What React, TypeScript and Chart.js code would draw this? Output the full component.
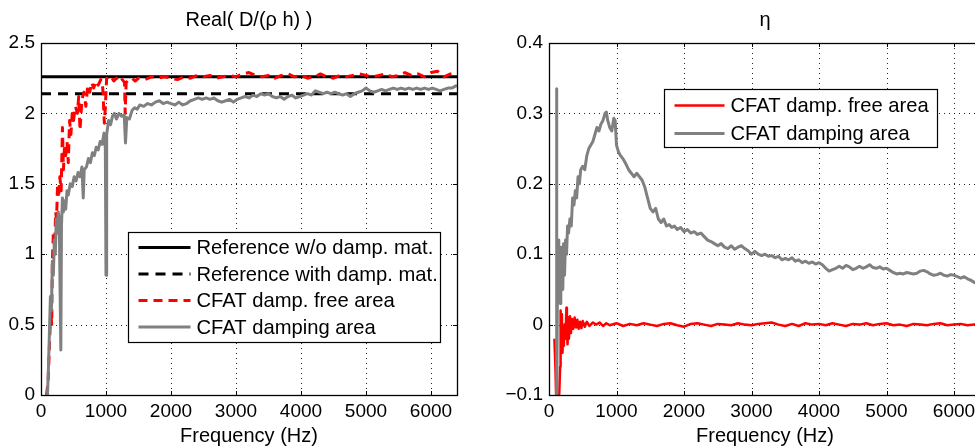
import React, { useEffect, useRef } from 'react';
import { Chart, registerables } from 'chart.js';

Chart.register(...registerables);

const FONT = "'Liberation Sans', Arial, Helvetica, sans-serif";

// ---------- Tick values ----------
const xTicks = [0, 1000, 2000, 3000, 4000, 5000, 6000];
const leftYTicks = [0, 0.5, 1, 1.5, 2, 2.5];
const rightYTicks = [-0.1, 0, 0.1, 0.2, 0.3, 0.4];

// ---------- Left chart: Real( D/(rho h) ) ----------
const refX = [0, 6400];
const refNoDamp = [2.26, 2.26];
const refWithDamp = [2.14, 2.14];

const redFreqL = [85, 110, 130, 150, 165, 175, 190, 210, 225, 240, 255, 270, 290, 310, 330, 345, 360, 380, 400, 420, 440, 460, 480, 500, 530, 560, 580, 600, 630, 660, 690, 720, 750, 780, 810, 850, 880, 920, 950, 975, 990, 1010, 1040, 1080, 1120, 1160, 1200, 1250, 1285, 1295, 1310, 1350, 1400, 1450, 1500, 1600, 1700, 1800, 1900, 2000, 2100, 2200, 2300, 2400, 2500, 2600, 2700, 2800, 2900, 3000, 3100, 3200, 3300, 3400, 3500, 3600, 3700, 3800, 3900, 4000, 4100, 4200, 4300, 4400, 4500, 4600, 4700, 4800, 4900, 5000, 5100, 5200, 5300, 5400, 5500, 5600, 5700, 5800, 5900, 6000, 6100, 6200, 6300, 6400];
const redValL = [0.0, 0.1, 0.35, 0.6, 0.5, 0.95, 1.15, 1.05, 1.3, 1.25, 1.5, 1.4, 1.55, 1.45, 1.9, 1.6, 1.75, 1.7, 1.8, 1.65, 1.95, 1.85, 2.0, 1.95, 2.05, 2.0, 2.12, 1.88, 2.1, 2.15, 2.05, 2.2, 2.15, 2.22, 2.18, 2.23, 2.2, 2.24, 2.18, 1.93, 2.05, 2.25, 2.24, 2.26, 2.23, 2.25, 2.22, 2.24, 2.22, 2.0, 2.22, 2.24, 2.25, 2.23, 2.25, 2.24, 2.26, 2.25, 2.26, 2.25, 2.24, 2.26, 2.25, 2.27, 2.26, 2.27, 2.25, 2.26, 2.27, 2.26, 2.28, 2.29, 2.27, 2.26, 2.27, 2.25, 2.27, 2.28, 2.26, 2.27, 2.25, 2.26, 2.28, 2.26, 2.25, 2.27, 2.26, 2.27, 2.28, 2.27, 2.26, 2.27, 2.28, 2.26, 2.27, 2.29, 2.27, 2.28, 2.26, 2.29, 2.3, 2.26, 2.28, 2.29];

const grayFreqL = [100, 115, 130, 145, 160, 175, 190, 205, 220, 235, 250, 265, 280, 295, 305, 315, 330, 345, 360, 380, 400, 420, 450, 480, 510, 540, 570, 600, 630, 650, 665, 700, 730, 760, 790, 820, 850, 880, 910, 940, 970, 990, 1000, 1010, 1040, 1070, 1100, 1130, 1160, 1200, 1240, 1280, 1300, 1320, 1360, 1400, 1440, 1480, 1520, 1580, 1640, 1700, 1760, 1820, 1880, 1940, 2000, 2060, 2120, 2180, 2240, 2300, 2360, 2420, 2480, 2540, 2600, 2660, 2720, 2780, 2840, 2900, 2960, 3020, 3080, 3140, 3200, 3260, 3320, 3380, 3440, 3500, 3560, 3620, 3680, 3740, 3800, 3860, 3920, 3980, 4040, 4100, 4160, 4220, 4280, 4340, 4400, 4460, 4520, 4580, 4640, 4700, 4760, 4820, 4880, 4940, 5000, 5060, 5120, 5180, 5240, 5300, 5360, 5420, 5480, 5540, 5600, 5660, 5720, 5780, 5840, 5900, 5960, 6020, 6080, 6140, 6200, 6260, 6320, 6400];
const grayValL = [0.0, 0.2, 0.45, 0.7, 0.6, 0.95, 0.85, 1.1, 1.0, 1.25, 1.15, 1.3, 1.25, 0.7, 0.32, 1.2, 1.4, 1.3, 1.38, 1.32, 1.45, 1.42, 1.5, 1.48, 1.55, 1.52, 1.58, 1.55, 1.62, 1.4, 1.6, 1.62, 1.68, 1.65, 1.72, 1.7, 1.76, 1.74, 1.8, 1.78, 1.86, 1.75, 0.85, 1.85, 1.95, 1.92, 1.98, 2.0, 1.96, 2.0, 1.98, 1.99, 1.79, 1.97, 1.96, 2.02, 2.04, 2.03, 2.06, 2.05, 2.07, 2.06, 2.08, 2.09, 2.07, 2.08, 2.07, 2.06, 2.08, 2.06, 2.07, 2.09, 2.1, 2.11, 2.1, 2.11, 2.1, 2.11, 2.09, 2.08, 2.09, 2.1, 2.08, 2.1, 2.11, 2.12, 2.11, 2.13, 2.12, 2.14, 2.13, 2.14, 2.12, 2.11, 2.12, 2.1, 2.12, 2.13, 2.11, 2.12, 2.13, 2.14, 2.13, 2.16, 2.15, 2.14, 2.15, 2.14, 2.15, 2.14, 2.13, 2.14, 2.12, 2.14, 2.15, 2.16, 2.18, 2.16, 2.15, 2.16, 2.17, 2.16, 2.17, 2.18, 2.17, 2.18, 2.17, 2.18, 2.17, 2.18, 2.17, 2.18, 2.17, 2.18, 2.17, 2.16, 2.17, 2.18, 2.18, 2.2];

// ---------- Right chart: eta ----------
const redFreqR = [80, 95, 110, 125, 140, 155, 165, 172, 180, 190, 200, 210, 220, 230, 245, 258, 265, 275, 285, 295, 310, 325, 340, 360, 380, 400, 420, 440, 460, 480, 500, 530, 560, 600, 650, 700, 750, 800, 850, 900, 1000, 1100, 1200, 1300, 1400, 1500, 1600, 1700, 1800, 1900, 2000, 2100, 2200, 2300, 2400, 2500, 2600, 2700, 2800, 2900, 3000, 3100, 3200, 3300, 3400, 3500, 3600, 3700, 3800, 3900, 4000, 4100, 4200, 4300, 4400, 4500, 4600, 4700, 4800, 4900, 5000, 5100, 5200, 5300, 5400, 5500, 5600, 5700, 5800, 5900, 6000, 6100, 6200, 6300, 6400];
const redValR = [-0.02, -0.06, -0.12, -0.15, -0.13, -0.09, -0.06, 0.02, -0.03, 0.015, -0.04, -0.01, -0.03, 0.0, -0.02, 0.024, -0.01, -0.028, 0.01, -0.02, 0.012, -0.012, 0.008, -0.006, 0.01, -0.004, 0.007, -0.006, 0.004, -0.005, 0.005, -0.003, 0.004, -0.002, 0.003, 0.0, 0.003, -0.002, 0.002, -0.001, 0.002, -0.002, 0.001, -0.001, 0.002, 0.0, -0.002, 0.001, 0.002, -0.001, -0.003, 0.001, 0.002, 0.0, -0.002, 0.001, 0.0, -0.001, 0.002, 0.0, -0.001, 0.001, 0.002, 0.003, 0.0, -0.002, 0.001, -0.002, 0.002, 0.0, 0.001, -0.001, 0.002, 0.0, -0.002, 0.001, 0.0, 0.002, -0.001, 0.001, 0.002, -0.001, 0.0, -0.002, 0.001, 0.0, -0.001, 0.001, 0.002, -0.001, 0.0, 0.001, -0.001, 0.0, 0.001];

const grayFreqR = [95, 105, 112, 116, 125, 135, 145, 155, 165, 175, 185, 195, 205, 215, 230, 245, 260, 275, 290, 310, 330, 350, 370, 390, 410, 430, 450, 470, 500, 530, 560, 590, 620, 650, 680, 710, 740, 770, 800, 830, 850, 870, 900, 930, 960, 980, 1000, 1030, 1060, 1100, 1140, 1180, 1220, 1260, 1300, 1340, 1380, 1420, 1460, 1500, 1540, 1580, 1620, 1660, 1700, 1740, 1780, 1820, 1860, 1900, 1950, 2000, 2050, 2100, 2150, 2200, 2250, 2300, 2350, 2400, 2450, 2500, 2550, 2600, 2650, 2700, 2750, 2800, 2850, 2900, 2950, 3000, 3050, 3100, 3150, 3200, 3250, 3300, 3350, 3400, 3450, 3500, 3550, 3600, 3650, 3700, 3750, 3800, 3850, 3900, 3950, 4000, 4050, 4100, 4150, 4200, 4250, 4300, 4350, 4400, 4450, 4500, 4550, 4600, 4650, 4700, 4750, 4800, 4850, 4900, 4950, 5000, 5050, 5100, 5150, 5200, 5250, 5300, 5350, 5400, 5450, 5500, 5550, 5600, 5650, 5700, 5750, 5800, 5850, 5900, 5950, 6000, 6050, 6100, 6150, 6200, 6250, 6300, 6350, 6400];
const grayValR = [-0.13, -0.12, 0.335, -0.12, 0.05, 0.12, 0.04, 0.1, 0.03, 0.11, 0.06, 0.1, 0.05, 0.115, 0.07, 0.12, 0.1, 0.14, 0.13, 0.15, 0.14, 0.18, 0.17, 0.19, 0.18, 0.21, 0.2, 0.22, 0.225, 0.22, 0.24, 0.25, 0.255, 0.26, 0.27, 0.28, 0.275, 0.285, 0.29, 0.3, 0.302, 0.29, 0.28, 0.275, 0.293, 0.29, 0.255, 0.245, 0.24, 0.235, 0.228, 0.22, 0.215, 0.21, 0.215, 0.21, 0.205, 0.195, 0.18, 0.165, 0.16, 0.165, 0.15, 0.145, 0.15, 0.14, 0.142, 0.138, 0.14, 0.135, 0.138, 0.132, 0.135, 0.13, 0.132, 0.128, 0.13, 0.125, 0.12, 0.118, 0.115, 0.112, 0.115, 0.11, 0.108, 0.112, 0.107, 0.11, 0.112, 0.108, 0.105, 0.1, 0.104, 0.1, 0.098, 0.1, 0.097, 0.098, 0.095, 0.097, 0.092, 0.094, 0.092, 0.095, 0.09, 0.092, 0.088, 0.09, 0.087, 0.089, 0.086, 0.088, 0.085, 0.08, 0.076, 0.078, 0.08, 0.083, 0.08, 0.084, 0.082, 0.078, 0.08, 0.083, 0.08, 0.082, 0.085, 0.081, 0.08, 0.082, 0.079, 0.08, 0.077, 0.074, 0.072, 0.073, 0.072, 0.074, 0.073, 0.072, 0.073, 0.076, 0.077, 0.075, 0.072, 0.07, 0.071, 0.073, 0.07, 0.069, 0.071, 0.07, 0.068, 0.066, 0.068, 0.065, 0.063, 0.06, 0.058, 0.055];

const pts = (xs: number[], ys: number[]) => xs.map((x, i) => ({ x, y: ys[i] }));

type LegendLayout = {
  dx: number; dy: number; w: number; h: number;
  rowY: number[]; line0: number; line1: number; textX: number; fontSize: number;
};

function matlabPlugin(xt: number[], yt: number[], lg: LegendLayout) {
  return {
    id: 'matlabAxes',
    beforeDatasetsDraw(chart: any) {
      const { ctx, chartArea: a, scales } = chart;
      ctx.save();
      ctx.strokeStyle = 'rgba(0,0,0,0.85)';
      ctx.lineWidth = 1;
      ctx.setLineDash([1, 4]);
      for (const t of xt) {
        const px = Math.round(scales.x.getPixelForValue(t)) + 0.5;
        if (px <= a.left + 1 || px >= a.right - 1) continue;
        ctx.beginPath(); ctx.moveTo(px, a.top); ctx.lineTo(px, a.bottom); ctx.stroke();
      }
      for (const t of yt) {
        const py = Math.round(scales.y.getPixelForValue(t)) + 0.5;
        if (py <= a.top + 1 || py >= a.bottom - 1) continue;
        ctx.beginPath(); ctx.moveTo(a.left, py); ctx.lineTo(a.right, py); ctx.stroke();
      }
      ctx.restore();
    },
    afterDatasetsDraw(chart: any) {
      const { ctx, chartArea: a, scales } = chart;
      ctx.save();
      ctx.strokeStyle = '#000';
      ctx.lineWidth = 1.3;
      ctx.setLineDash([]);
      ctx.strokeRect(Math.round(a.left) + 0.5, Math.round(a.top) + 0.5, Math.round(a.right - a.left), Math.round(a.bottom - a.top));
      const tl = 4;
      ctx.lineWidth = 1;
      for (const t of xt) {
        const px = Math.round(scales.x.getPixelForValue(t)) + 0.5;
        ctx.beginPath();
        ctx.moveTo(px, a.bottom); ctx.lineTo(px, a.bottom - tl);
        ctx.moveTo(px, a.top); ctx.lineTo(px, a.top + tl);
        ctx.stroke();
      }
      for (const t of yt) {
        const py = Math.round(scales.y.getPixelForValue(t)) + 0.5;
        ctx.beginPath();
        ctx.moveTo(a.left, py); ctx.lineTo(a.left + tl, py);
        ctx.moveTo(a.right, py); ctx.lineTo(a.right - tl, py);
        ctx.stroke();
      }
      ctx.restore();
    },
    afterDraw(chart: any) {
      const { ctx, chartArea: a } = chart;
      const bx = Math.round(a.left + lg.dx) + 0.5;
      const by = Math.round(a.top + lg.dy) + 0.5;
      ctx.save();
      ctx.fillStyle = '#fff';
      ctx.fillRect(bx, by, lg.w, lg.h);
      ctx.strokeStyle = '#000';
      ctx.lineWidth = 1.2;
      ctx.setLineDash([]);
      ctx.strokeRect(bx, by, lg.w, lg.h);
      ctx.font = `${lg.fontSize}px ${FONT}`;
      ctx.textBaseline = 'middle';
      ctx.textAlign = 'left';
      chart.data.datasets.forEach((ds: any, i: number) => {
        const y = by + lg.rowY[i];
        ctx.strokeStyle = ds.borderColor;
        ctx.lineWidth = ds.borderWidth;
        ctx.setLineDash(ds.borderDash || []);
        ctx.beginPath();
        ctx.moveTo(bx + lg.line0, y);
        ctx.lineTo(bx + lg.line1, y);
        ctx.stroke();
        ctx.setLineDash([]);
        ctx.fillStyle = '#000';
        ctx.fillText(ds.label, bx + lg.textX, y + 1);
      });
      ctx.restore();
    },
  };
}

function fmt(v: number) {
  if (Math.abs(v) < 1e-9) return '0';
  const s = String(Math.round(v * 10) / 10);
  return s.replace('-', '\u2212');
}

function makeConfig(opts: {
  title: string; datasets: any[]; yMin: number; yMax: number; yTicks: number[];
  yWidth: number; padRight: number; legend: LegendLayout;
}): any {
  return {
    type: 'line',
    data: { datasets: opts.datasets },
    plugins: [matlabPlugin(xTicks, opts.yTicks, opts.legend)],
    options: {
      animation: false,
      responsive: true,
      maintainAspectRatio: false,
      events: [],
      layout: { padding: { left: 0, right: opts.padRight, top: 0, bottom: 0 } },
      elements: { point: { radius: 0 }, line: { tension: 0 } },
      plugins: {
        legend: { display: false },
        tooltip: { enabled: false },
        title: {
          display: true,
          text: opts.title,
          fullSize: false,
          color: '#000',
          font: { family: FONT, size: 20, weight: 'normal' },
          padding: { top: 8, bottom: 11 },
        },
      },
      scales: {
        x: {
          type: 'linear',
          min: 0,
          max: 6400,
          grid: { display: false, drawTicks: false },
          border: { display: false },
          afterBuildTicks: (s: any) => { s.ticks = xTicks.map((v) => ({ value: v })); },
          afterFit: (s: any) => { s.height = 56; },
          ticks: {
            includeBounds: false,
            autoSkip: false,
            maxRotation: 0,
            padding: 5,
            color: '#000',
            font: { family: FONT, size: 19 },
            callback: (v: any) => String(v),
          },
          title: {
            display: true,
            text: 'Frequency (Hz)',
            color: '#000',
            font: { family: FONT, size: 20 },
            padding: { top: 0, bottom: 3 },
          },
        },
        y: {
          type: 'linear',
          min: opts.yMin,
          max: opts.yMax,
          grid: { display: false, drawTicks: false },
          border: { display: false },
          afterBuildTicks: (s: any) => { s.ticks = opts.yTicks.map((v) => ({ value: v })); },
          afterFit: (s: any) => { s.width = opts.yWidth; },
          ticks: {
            includeBounds: false,
            autoSkip: false,
            padding: 6,
            color: '#000',
            font: { family: FONT, size: 19 },
            callback: (v: any) => fmt(Number(v)),
          },
        },
      },
    },
  };
}

function ChartBox({ config, left, width, height }: { config: any; left: number; width: number; height: number }) {
  const ref = useRef<HTMLCanvasElement>(null);
  useEffect(() => {
    const chart = new Chart(ref.current as HTMLCanvasElement, config);
    return () => chart.destroy();
  }, []);
  return (
    <div style={{ position: 'absolute', left, top: 0, width, height }}>
      <canvas ref={ref} />
    </div>
  );
}

export default function App() {
  const lineBase = { pointRadius: 0, fill: false, borderJoinStyle: 'round' as const };

  const leftDatasets = [
    { ...lineBase, label: 'Reference w/o damp. mat.', data: pts(refX, refNoDamp), borderColor: '#000000', borderWidth: 3, order: 3 },
    { ...lineBase, label: 'Reference with damp. mat.', data: pts(refX, refWithDamp), borderColor: '#000000', borderWidth: 3, borderDash: [10, 7], order: 2 },
    { ...lineBase, label: 'CFAT damp. free area', data: pts(redFreqL, redValL), borderColor: '#ff0000', borderWidth: 3, borderDash: [9, 6], order: 1 },
    { ...lineBase, label: 'CFAT damping area', data: pts(grayFreqL, grayValL), borderColor: '#808080', borderWidth: 3, order: 0 },
  ];

  const rightDatasets = [
    { ...lineBase, label: 'CFAT damp. free area', data: pts(redFreqR, redValR), borderColor: '#ff0000', borderWidth: 2.5, order: 1 },
    { ...lineBase, label: 'CFAT damping area', data: pts(grayFreqR, grayValR), borderColor: '#808080', borderWidth: 3, order: 0 },
  ];

  const leftConfig = makeConfig({
    title: 'Real( D/(\u03c1 h) )',
    datasets: leftDatasets,
    yMin: 0, yMax: 2.5, yTicks: leftYTicks,
    yWidth: 41, padRight: 13,
    legend: { dx: 87, dy: 189, w: 312, h: 110, rowY: [15, 41.5, 68, 94.5], line0: 10, line1: 62, textX: 68, fontSize: 20.2 },
  });

  const rightConfig = makeConfig({
    title: '\u03b7',
    datasets: rightDatasets,
    yMin: -0.1, yMax: 0.4, yTicks: rightYTicks,
    yWidth: 64, padRight: 13,
    legend: { dx: 115, dy: 46, w: 273, h: 58, rowY: [16, 44], line0: 10, line1: 60, textX: 66, fontSize: 20.2 },
  });

  return (
    <div style={{ position: 'fixed', left: 0, top: 0, width: 975, height: 447, overflow: 'hidden', background: '#fff' }}>
      <ChartBox config={leftConfig} left={0} width={470} height={451} />
      <ChartBox config={rightConfig} left={485} width={509} height={451} />
    </div>
  );
}
